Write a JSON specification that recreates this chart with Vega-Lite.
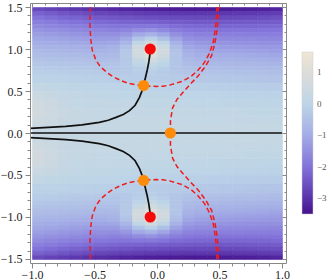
{
"$schema": "https://vega.github.io/schema/vega-lite/v6.json",
"width": 332, "height": 280,
"autosize": {"type": "fit", "contains": "padding"},
"padding": {"left": 0, "top": 1, "right": 5, "bottom": 0},
"background": "white",
"config": {"view": {"stroke": null}, "font": "Liberation Serif"},
"datasets": {
"g": [
{"x":-0.95,"y":0.65,"v":-0.04},{"x":-0.85,"y":0.65,"v":-0.05},{"x":-0.75,"y":0.65,"v":-0.07},{"x":-0.65,"y":0.65,"v":-0.09},{"x":-0.55,"y":0.65,"v":-0.11},{"x":-0.45,"y":0.65,"v":-0.13},{"x":-0.35,"y":0.65,"v":-0.15},{"x":-0.25,"y":0.65,"v":-0.17},{"x":-0.15,"y":0.65,"v":-0.19},{"x":-0.05,"y":0.65,"v":-0.18},{"x":0.05,"y":0.65,"v":-0.21},{"x":0.15,"y":0.65,"v":-0.25},{"x":0.25,"y":0.65,"v":-0.27},{"x":0.35,"y":0.65,"v":-0.29},{"x":0.45,"y":0.65,"v":-0.31},{"x":0.55,"y":0.65,"v":-0.33},{"x":0.65,"y":0.65,"v":-0.35},{"x":0.75,"y":0.65,"v":-0.37},{"x":0.85,"y":0.65,"v":-0.39},{"x":0.95,"y":0.65,"v":-0.41},
{"x":-0.95,"y":0.55,"v":0.18},{"x":-0.85,"y":0.55,"v":0.13},{"x":-0.75,"y":0.55,"v":0.08},{"x":-0.65,"y":0.55,"v":0.04},{"x":-0.55,"y":0.55,"v":0.02},{"x":-0.45,"y":0.55,"v":0.0},{"x":-0.35,"y":0.55,"v":-0.01},{"x":-0.25,"y":0.55,"v":-0.03},{"x":-0.15,"y":0.55,"v":-0.05},{"x":-0.05,"y":0.55,"v":-0.06},{"x":0.05,"y":0.55,"v":-0.08},{"x":0.15,"y":0.55,"v":-0.1},{"x":0.25,"y":0.55,"v":-0.11},{"x":0.35,"y":0.55,"v":-0.13},{"x":0.45,"y":0.55,"v":-0.14},{"x":0.55,"y":0.55,"v":-0.16},{"x":0.65,"y":0.55,"v":-0.18},{"x":0.75,"y":0.55,"v":-0.19},{"x":0.85,"y":0.55,"v":-0.21},{"x":0.95,"y":0.55,"v":-0.23},
{"x":-0.95,"y":0.45,"v":0.41},{"x":-0.85,"y":0.45,"v":0.32},{"x":-0.75,"y":0.45,"v":0.21},{"x":-0.65,"y":0.45,"v":0.15},{"x":-0.55,"y":0.45,"v":0.12},{"x":-0.45,"y":0.45,"v":0.11},{"x":-0.35,"y":0.45,"v":0.1},{"x":-0.25,"y":0.45,"v":0.08},{"x":-0.15,"y":0.45,"v":0.07},{"x":-0.05,"y":0.45,"v":0.06},{"x":0.05,"y":0.45,"v":0.04},{"x":0.15,"y":0.45,"v":0.03},{"x":0.25,"y":0.45,"v":0.02},{"x":0.35,"y":0.45,"v":0.0},{"x":0.45,"y":0.45,"v":-0.01},{"x":0.55,"y":0.45,"v":-0.02},{"x":0.65,"y":0.45,"v":-0.04},{"x":0.75,"y":0.45,"v":-0.05},{"x":0.85,"y":0.45,"v":-0.07},{"x":0.95,"y":0.45,"v":-0.08},
{"x":-0.95,"y":0.35,"v":0.59},{"x":-0.85,"y":0.35,"v":0.45},{"x":-0.75,"y":0.35,"v":0.3},{"x":-0.65,"y":0.35,"v":0.22},{"x":-0.55,"y":0.35,"v":0.19},{"x":-0.45,"y":0.35,"v":0.18},{"x":-0.35,"y":0.35,"v":0.17},{"x":-0.25,"y":0.35,"v":0.16},{"x":-0.15,"y":0.35,"v":0.15},{"x":-0.05,"y":0.35,"v":0.14},{"x":0.05,"y":0.35,"v":0.12},{"x":0.15,"y":0.35,"v":0.11},{"x":0.25,"y":0.35,"v":0.1},{"x":0.35,"y":0.35,"v":0.09},{"x":0.45,"y":0.35,"v":0.08},{"x":0.55,"y":0.35,"v":0.07},{"x":0.65,"y":0.35,"v":0.06},{"x":0.75,"y":0.35,"v":0.05},{"x":0.85,"y":0.35,"v":0.04},{"x":0.95,"y":0.35,"v":0.03},
{"x":-0.95,"y":0.25,"v":0.63},{"x":-0.85,"y":0.25,"v":0.49},{"x":-0.75,"y":0.25,"v":0.35},{"x":-0.65,"y":0.25,"v":0.27},{"x":-0.55,"y":0.25,"v":0.24},{"x":-0.45,"y":0.25,"v":0.23},{"x":-0.35,"y":0.25,"v":0.23},{"x":-0.25,"y":0.25,"v":0.22},{"x":-0.15,"y":0.25,"v":0.21},{"x":-0.05,"y":0.25,"v":0.2},{"x":0.05,"y":0.25,"v":0.2},{"x":0.15,"y":0.25,"v":0.19},{"x":0.25,"y":0.25,"v":0.18},{"x":0.35,"y":0.25,"v":0.17},{"x":0.45,"y":0.25,"v":0.17},{"x":0.55,"y":0.25,"v":0.16},{"x":0.65,"y":0.25,"v":0.15},{"x":0.75,"y":0.25,"v":0.14},{"x":0.85,"y":0.25,"v":0.14},{"x":0.95,"y":0.25,"v":0.13},
{"x":-0.95,"y":0.15,"v":0.51},{"x":-0.85,"y":0.15,"v":0.43},{"x":-0.75,"y":0.15,"v":0.33},{"x":-0.65,"y":0.15,"v":0.29},{"x":-0.55,"y":0.15,"v":0.27},{"x":-0.45,"y":0.15,"v":0.26},{"x":-0.35,"y":0.15,"v":0.26},{"x":-0.25,"y":0.15,"v":0.25},{"x":-0.15,"y":0.15,"v":0.25},{"x":-0.05,"y":0.15,"v":0.24},{"x":0.05,"y":0.15,"v":0.24},{"x":0.15,"y":0.15,"v":0.23},{"x":0.25,"y":0.15,"v":0.23},{"x":0.35,"y":0.15,"v":0.22},{"x":0.45,"y":0.15,"v":0.22},{"x":0.55,"y":0.15,"v":0.22},{"x":0.65,"y":0.15,"v":0.21},{"x":0.75,"y":0.15,"v":0.21},{"x":0.85,"y":0.15,"v":0.2},{"x":0.95,"y":0.15,"v":0.2},
{"x":-0.95,"y":0.05,"v":0.35},{"x":-0.85,"y":0.05,"v":0.32},{"x":-0.75,"y":0.05,"v":0.29},{"x":-0.65,"y":0.05,"v":0.26},{"x":-0.55,"y":0.05,"v":0.26},{"x":-0.45,"y":0.05,"v":0.26},{"x":-0.35,"y":0.05,"v":0.26},{"x":-0.25,"y":0.05,"v":0.25},{"x":-0.15,"y":0.05,"v":0.25},{"x":-0.05,"y":0.05,"v":0.25},{"x":0.05,"y":0.05,"v":0.25},{"x":0.15,"y":0.05,"v":0.25},{"x":0.25,"y":0.05,"v":0.25},{"x":0.35,"y":0.05,"v":0.24},{"x":0.45,"y":0.05,"v":0.24},{"x":0.55,"y":0.05,"v":0.24},{"x":0.65,"y":0.05,"v":0.24},{"x":0.75,"y":0.05,"v":0.24},{"x":0.85,"y":0.05,"v":0.24},{"x":0.95,"y":0.05,"v":0.24},
{"x":-0.95,"y":-0.05,"v":0.35},{"x":-0.85,"y":-0.05,"v":0.32},{"x":-0.75,"y":-0.05,"v":0.29},{"x":-0.65,"y":-0.05,"v":0.26},{"x":-0.55,"y":-0.05,"v":0.26},{"x":-0.45,"y":-0.05,"v":0.26},{"x":-0.35,"y":-0.05,"v":0.26},{"x":-0.25,"y":-0.05,"v":0.25},{"x":-0.15,"y":-0.05,"v":0.25},{"x":-0.05,"y":-0.05,"v":0.25},{"x":0.05,"y":-0.05,"v":0.25},{"x":0.15,"y":-0.05,"v":0.25},{"x":0.25,"y":-0.05,"v":0.25},{"x":0.35,"y":-0.05,"v":0.24},{"x":0.45,"y":-0.05,"v":0.24},{"x":0.55,"y":-0.05,"v":0.24},{"x":0.65,"y":-0.05,"v":0.24},{"x":0.75,"y":-0.05,"v":0.24},{"x":0.85,"y":-0.05,"v":0.24},{"x":0.95,"y":-0.05,"v":0.24},
{"x":-0.95,"y":-0.15,"v":0.51},{"x":-0.85,"y":-0.15,"v":0.43},{"x":-0.75,"y":-0.15,"v":0.33},{"x":-0.65,"y":-0.15,"v":0.29},{"x":-0.55,"y":-0.15,"v":0.27},{"x":-0.45,"y":-0.15,"v":0.26},{"x":-0.35,"y":-0.15,"v":0.26},{"x":-0.25,"y":-0.15,"v":0.25},{"x":-0.15,"y":-0.15,"v":0.25},{"x":-0.05,"y":-0.15,"v":0.24},{"x":0.05,"y":-0.15,"v":0.24},{"x":0.15,"y":-0.15,"v":0.23},{"x":0.25,"y":-0.15,"v":0.23},{"x":0.35,"y":-0.15,"v":0.22},{"x":0.45,"y":-0.15,"v":0.22},{"x":0.55,"y":-0.15,"v":0.22},{"x":0.65,"y":-0.15,"v":0.21},{"x":0.75,"y":-0.15,"v":0.21},{"x":0.85,"y":-0.15,"v":0.2},{"x":0.95,"y":-0.15,"v":0.2},
{"x":-0.95,"y":-0.25,"v":0.63},{"x":-0.85,"y":-0.25,"v":0.49},{"x":-0.75,"y":-0.25,"v":0.35},{"x":-0.65,"y":-0.25,"v":0.27},{"x":-0.55,"y":-0.25,"v":0.24},{"x":-0.45,"y":-0.25,"v":0.23},{"x":-0.35,"y":-0.25,"v":0.23},{"x":-0.25,"y":-0.25,"v":0.22},{"x":-0.15,"y":-0.25,"v":0.21},{"x":-0.05,"y":-0.25,"v":0.2},{"x":0.05,"y":-0.25,"v":0.2},{"x":0.15,"y":-0.25,"v":0.19},{"x":0.25,"y":-0.25,"v":0.18},{"x":0.35,"y":-0.25,"v":0.17},{"x":0.45,"y":-0.25,"v":0.17},{"x":0.55,"y":-0.25,"v":0.16},{"x":0.65,"y":-0.25,"v":0.15},{"x":0.75,"y":-0.25,"v":0.14},{"x":0.85,"y":-0.25,"v":0.14},{"x":0.95,"y":-0.25,"v":0.13},
{"x":-0.95,"y":-0.35,"v":0.59},{"x":-0.85,"y":-0.35,"v":0.45},{"x":-0.75,"y":-0.35,"v":0.3},{"x":-0.65,"y":-0.35,"v":0.22},{"x":-0.55,"y":-0.35,"v":0.19},{"x":-0.45,"y":-0.35,"v":0.18},{"x":-0.35,"y":-0.35,"v":0.17},{"x":-0.25,"y":-0.35,"v":0.16},{"x":-0.15,"y":-0.35,"v":0.15},{"x":-0.05,"y":-0.35,"v":0.14},{"x":0.05,"y":-0.35,"v":0.12},{"x":0.15,"y":-0.35,"v":0.11},{"x":0.25,"y":-0.35,"v":0.1},{"x":0.35,"y":-0.35,"v":0.09},{"x":0.45,"y":-0.35,"v":0.08},{"x":0.55,"y":-0.35,"v":0.07},{"x":0.65,"y":-0.35,"v":0.06},{"x":0.75,"y":-0.35,"v":0.05},{"x":0.85,"y":-0.35,"v":0.04},{"x":0.95,"y":-0.35,"v":0.03},
{"x":-0.95,"y":-0.45,"v":0.41},{"x":-0.85,"y":-0.45,"v":0.32},{"x":-0.75,"y":-0.45,"v":0.21},{"x":-0.65,"y":-0.45,"v":0.15},{"x":-0.55,"y":-0.45,"v":0.12},{"x":-0.45,"y":-0.45,"v":0.11},{"x":-0.35,"y":-0.45,"v":0.1},{"x":-0.25,"y":-0.45,"v":0.08},{"x":-0.15,"y":-0.45,"v":0.07},{"x":-0.05,"y":-0.45,"v":0.06},{"x":0.05,"y":-0.45,"v":0.04},{"x":0.15,"y":-0.45,"v":0.03},{"x":0.25,"y":-0.45,"v":0.02},{"x":0.35,"y":-0.45,"v":0.0},{"x":0.45,"y":-0.45,"v":-0.01},{"x":0.55,"y":-0.45,"v":-0.02},{"x":0.65,"y":-0.45,"v":-0.04},{"x":0.75,"y":-0.45,"v":-0.05},{"x":0.85,"y":-0.45,"v":-0.07},{"x":0.95,"y":-0.45,"v":-0.08},
{"x":-0.95,"y":-0.55,"v":0.18},{"x":-0.85,"y":-0.55,"v":0.13},{"x":-0.75,"y":-0.55,"v":0.08},{"x":-0.65,"y":-0.55,"v":0.04},{"x":-0.55,"y":-0.55,"v":0.02},{"x":-0.45,"y":-0.55,"v":0.0},{"x":-0.35,"y":-0.55,"v":-0.01},{"x":-0.25,"y":-0.55,"v":-0.03},{"x":-0.15,"y":-0.55,"v":-0.05},{"x":-0.05,"y":-0.55,"v":-0.06},{"x":0.05,"y":-0.55,"v":-0.08},{"x":0.15,"y":-0.55,"v":-0.1},{"x":0.25,"y":-0.55,"v":-0.11},{"x":0.35,"y":-0.55,"v":-0.13},{"x":0.45,"y":-0.55,"v":-0.14},{"x":0.55,"y":-0.55,"v":-0.16},{"x":0.65,"y":-0.55,"v":-0.18},{"x":0.75,"y":-0.55,"v":-0.19},{"x":0.85,"y":-0.55,"v":-0.21},{"x":0.95,"y":-0.55,"v":-0.23},
{"x":-0.95,"y":-0.65,"v":-0.04},{"x":-0.85,"y":-0.65,"v":-0.05},{"x":-0.75,"y":-0.65,"v":-0.07},{"x":-0.65,"y":-0.65,"v":-0.09},{"x":-0.55,"y":-0.65,"v":-0.11},{"x":-0.45,"y":-0.65,"v":-0.13},{"x":-0.35,"y":-0.65,"v":-0.15},{"x":-0.25,"y":-0.65,"v":-0.17},{"x":-0.15,"y":-0.65,"v":-0.19},{"x":-0.05,"y":-0.65,"v":-0.18},{"x":0.05,"y":-0.65,"v":-0.21},{"x":0.15,"y":-0.65,"v":-0.25},{"x":0.25,"y":-0.65,"v":-0.27},{"x":0.35,"y":-0.65,"v":-0.29},{"x":0.45,"y":-0.65,"v":-0.31},{"x":0.55,"y":-0.65,"v":-0.33},{"x":0.65,"y":-0.65,"v":-0.35},{"x":0.75,"y":-0.65,"v":-0.37},{"x":0.85,"y":-0.65,"v":-0.39},{"x":0.95,"y":-0.65,"v":-0.41}
],
"f": [
{"x":-0.95,"y":1.475,"v":-2.63},{"x":-0.85,"y":1.475,"v":-2.74},{"x":-0.75,"y":1.475,"v":-2.84},{"x":-0.65,"y":1.475,"v":-2.92},{"x":-0.55,"y":1.475,"v":-3.01},{"x":-0.45,"y":1.475,"v":-3.08},{"x":-0.35,"y":1.475,"v":-3.14},{"x":-0.25,"y":1.475,"v":-3.2},{"x":-0.15,"y":1.475,"v":-3.25},{"x":-0.05,"y":1.475,"v":-3.29},{"x":0.05,"y":1.475,"v":-3.32},{"x":0.15,"y":1.475,"v":-3.34},{"x":0.25,"y":1.475,"v":-3.35},{"x":0.35,"y":1.475,"v":-3.35},{"x":0.45,"y":1.475,"v":-3.35},{"x":0.55,"y":1.475,"v":-3.34},{"x":0.65,"y":1.475,"v":-3.31},{"x":0.75,"y":1.475,"v":-3.29},{"x":0.85,"y":1.475,"v":-3.25},{"x":0.95,"y":1.475,"v":-3.2},
{"x":-0.95,"y":1.425,"v":-2.25},{"x":-0.85,"y":1.425,"v":-2.35},{"x":-0.75,"y":1.425,"v":-2.44},{"x":-0.65,"y":1.425,"v":-2.52},{"x":-0.55,"y":1.425,"v":-2.6},{"x":-0.45,"y":1.425,"v":-2.67},{"x":-0.35,"y":1.425,"v":-2.73},{"x":-0.25,"y":1.425,"v":-2.78},{"x":-0.15,"y":1.425,"v":-2.83},{"x":-0.05,"y":1.425,"v":-2.86},{"x":0.05,"y":1.425,"v":-2.9},{"x":0.15,"y":1.425,"v":-2.92},{"x":0.25,"y":1.425,"v":-2.93},{"x":0.35,"y":1.425,"v":-2.94},{"x":0.45,"y":1.425,"v":-2.94},{"x":0.55,"y":1.425,"v":-2.93},{"x":0.65,"y":1.425,"v":-2.91},{"x":0.75,"y":1.425,"v":-2.89},{"x":0.85,"y":1.425,"v":-2.86},{"x":0.95,"y":1.425,"v":-2.82},
{"x":-0.95,"y":1.375,"v":-1.99},{"x":-0.85,"y":1.375,"v":-2.08},{"x":-0.75,"y":1.375,"v":-2.17},{"x":-0.65,"y":1.375,"v":-2.24},{"x":-0.55,"y":1.375,"v":-2.31},{"x":-0.45,"y":1.375,"v":-2.38},{"x":-0.35,"y":1.375,"v":-2.43},{"x":-0.25,"y":1.375,"v":-2.48},{"x":-0.15,"y":1.375,"v":-2.52},{"x":-0.05,"y":1.375,"v":-2.55},{"x":0.05,"y":1.375,"v":-2.59},{"x":0.15,"y":1.375,"v":-2.62},{"x":0.25,"y":1.375,"v":-2.63},{"x":0.35,"y":1.375,"v":-2.64},{"x":0.45,"y":1.375,"v":-2.65},{"x":0.55,"y":1.375,"v":-2.64},{"x":0.65,"y":1.375,"v":-2.63},{"x":0.75,"y":1.375,"v":-2.62},{"x":0.85,"y":1.375,"v":-2.59},{"x":0.95,"y":1.375,"v":-2.56},
{"x":-0.95,"y":1.325,"v":-1.77},{"x":-0.85,"y":1.325,"v":-1.85},{"x":-0.75,"y":1.325,"v":-1.93},{"x":-0.65,"y":1.325,"v":-2.0},{"x":-0.55,"y":1.325,"v":-2.07},{"x":-0.45,"y":1.325,"v":-2.13},{"x":-0.35,"y":1.325,"v":-2.18},{"x":-0.25,"y":1.325,"v":-2.22},{"x":-0.15,"y":1.325,"v":-2.23},{"x":-0.05,"y":1.325,"v":-2.25},{"x":0.05,"y":1.325,"v":-2.3},{"x":0.15,"y":1.325,"v":-2.35},{"x":0.25,"y":1.325,"v":-2.38},{"x":0.35,"y":1.325,"v":-2.39},{"x":0.45,"y":1.325,"v":-2.4},{"x":0.55,"y":1.325,"v":-2.4},{"x":0.65,"y":1.325,"v":-2.39},{"x":0.75,"y":1.325,"v":-2.38},{"x":0.85,"y":1.325,"v":-2.36},{"x":0.95,"y":1.325,"v":-2.34},
{"x":-0.95,"y":1.275,"v":-1.57},{"x":-0.85,"y":1.275,"v":-1.65},{"x":-0.75,"y":1.275,"v":-1.72},{"x":-0.65,"y":1.275,"v":-1.78},{"x":-0.55,"y":1.275,"v":-1.84},{"x":-0.45,"y":1.275,"v":-1.9},{"x":-0.35,"y":1.275,"v":-1.95},{"x":-0.25,"y":1.275,"v":-1.95},{"x":-0.15,"y":1.275,"v":-1.91},{"x":-0.05,"y":1.275,"v":-1.9},{"x":0.05,"y":1.275,"v":-1.98},{"x":0.15,"y":1.275,"v":-2.08},{"x":0.25,"y":1.275,"v":-2.14},{"x":0.35,"y":1.275,"v":-2.16},{"x":0.45,"y":1.275,"v":-2.17},{"x":0.55,"y":1.275,"v":-2.17},{"x":0.65,"y":1.275,"v":-2.17},{"x":0.75,"y":1.275,"v":-2.17},{"x":0.85,"y":1.275,"v":-2.16},{"x":0.95,"y":1.275,"v":-2.14},
{"x":-0.95,"y":1.225,"v":-1.39},{"x":-0.85,"y":1.225,"v":-1.46},{"x":-0.75,"y":1.225,"v":-1.52},{"x":-0.65,"y":1.225,"v":-1.58},{"x":-0.55,"y":1.225,"v":-1.63},{"x":-0.45,"y":1.225,"v":-1.68},{"x":-0.35,"y":1.225,"v":-1.72},{"x":-0.25,"y":1.225,"v":-1.67},{"x":-0.15,"y":1.225,"v":-1.53},{"x":-0.05,"y":1.225,"v":-1.45},{"x":0.05,"y":1.225,"v":-1.6},{"x":0.15,"y":1.225,"v":-1.8},{"x":0.25,"y":1.225,"v":-1.91},{"x":0.35,"y":1.225,"v":-1.94},{"x":0.45,"y":1.225,"v":-1.95},{"x":0.55,"y":1.225,"v":-1.96},{"x":0.65,"y":1.225,"v":-1.97},{"x":0.75,"y":1.225,"v":-1.97},{"x":0.85,"y":1.225,"v":-1.97},{"x":0.95,"y":1.225,"v":-1.96},
{"x":-0.95,"y":1.175,"v":-1.22},{"x":-0.85,"y":1.175,"v":-1.28},{"x":-0.75,"y":1.175,"v":-1.34},{"x":-0.65,"y":1.175,"v":-1.39},{"x":-0.55,"y":1.175,"v":-1.44},{"x":-0.45,"y":1.175,"v":-1.48},{"x":-0.35,"y":1.175,"v":-1.5},{"x":-0.25,"y":1.175,"v":-1.37},{"x":-0.15,"y":1.175,"v":-1.04},{"x":-0.05,"y":1.175,"v":-0.85},{"x":0.05,"y":1.175,"v":-1.1},{"x":0.15,"y":1.175,"v":-1.49},{"x":0.25,"y":1.175,"v":-1.69},{"x":0.35,"y":1.175,"v":-1.74},{"x":0.45,"y":1.175,"v":-1.75},{"x":0.55,"y":1.175,"v":-1.77},{"x":0.65,"y":1.175,"v":-1.78},{"x":0.75,"y":1.175,"v":-1.79},{"x":0.85,"y":1.175,"v":-1.79},{"x":0.95,"y":1.175,"v":-1.79},
{"x":-0.95,"y":1.125,"v":-1.06},{"x":-0.85,"y":1.125,"v":-1.11},{"x":-0.75,"y":1.125,"v":-1.16},{"x":-0.65,"y":1.125,"v":-1.21},{"x":-0.55,"y":1.125,"v":-1.25},{"x":-0.45,"y":1.125,"v":-1.29},{"x":-0.35,"y":1.125,"v":-1.27},{"x":-0.25,"y":1.125,"v":-1.04},{"x":-0.15,"y":1.125,"v":-0.45},{"x":-0.05,"y":1.125,"v":-0.1},{"x":0.05,"y":1.125,"v":-0.52},{"x":0.15,"y":1.125,"v":-1.16},{"x":0.25,"y":1.125,"v":-1.46},{"x":0.35,"y":1.125,"v":-1.54},{"x":0.45,"y":1.125,"v":-1.56},{"x":0.55,"y":1.125,"v":-1.58},{"x":0.65,"y":1.125,"v":-1.6},{"x":0.75,"y":1.125,"v":-1.61},{"x":0.85,"y":1.125,"v":-1.62},{"x":0.95,"y":1.125,"v":-1.63},
{"x":-0.95,"y":1.075,"v":-0.92},{"x":-0.85,"y":1.075,"v":-0.97},{"x":-0.75,"y":1.075,"v":-1.01},{"x":-0.65,"y":1.075,"v":-1.05},{"x":-0.55,"y":1.075,"v":-1.09},{"x":-0.45,"y":1.075,"v":-1.11},{"x":-0.35,"y":1.075,"v":-1.08},{"x":-0.25,"y":1.075,"v":-0.72},{"x":-0.15,"y":1.075,"v":0.12},{"x":-0.05,"y":1.075,"v":0.64},{"x":0.05,"y":1.075,"v":0.06},{"x":0.15,"y":1.075,"v":-0.84},{"x":0.25,"y":1.075,"v":-1.26},{"x":0.35,"y":1.075,"v":-1.36},{"x":0.45,"y":1.075,"v":-1.39},{"x":0.55,"y":1.075,"v":-1.42},{"x":0.65,"y":1.075,"v":-1.44},{"x":0.75,"y":1.075,"v":-1.46},{"x":0.85,"y":1.075,"v":-1.48},{"x":0.95,"y":1.075,"v":-1.49},
{"x":-0.95,"y":1.025,"v":-0.8},{"x":-0.85,"y":1.025,"v":-0.83},{"x":-0.75,"y":1.025,"v":-0.86},{"x":-0.65,"y":1.025,"v":-0.9},{"x":-0.55,"y":1.025,"v":-0.93},{"x":-0.45,"y":1.025,"v":-0.95},{"x":-0.35,"y":1.025,"v":-0.89},{"x":-0.25,"y":1.025,"v":-0.47},{"x":-0.15,"y":1.025,"v":0.54},{"x":-0.05,"y":1.025,"v":1.17},{"x":0.05,"y":1.025,"v":0.48},{"x":0.15,"y":1.025,"v":-0.59},{"x":0.25,"y":1.025,"v":-1.08},{"x":0.35,"y":1.025,"v":-1.19},{"x":0.45,"y":1.025,"v":-1.23},{"x":0.55,"y":1.025,"v":-1.26},{"x":0.65,"y":1.025,"v":-1.29},{"x":0.75,"y":1.025,"v":-1.31},{"x":0.85,"y":1.025,"v":-1.34},{"x":0.95,"y":1.025,"v":-1.37},
{"x":-0.95,"y":0.975,"v":-0.67},{"x":-0.85,"y":0.975,"v":-0.7},{"x":-0.75,"y":0.975,"v":-0.73},{"x":-0.65,"y":0.975,"v":-0.76},{"x":-0.55,"y":0.975,"v":-0.79},{"x":-0.45,"y":0.975,"v":-0.81},{"x":-0.35,"y":0.975,"v":-0.75},{"x":-0.25,"y":0.975,"v":-0.32},{"x":-0.15,"y":0.975,"v":0.68},{"x":-0.05,"y":0.975,"v":1.32},{"x":0.05,"y":0.975,"v":0.63},{"x":0.15,"y":0.975,"v":-0.43},{"x":0.25,"y":0.975,"v":-0.92},{"x":0.35,"y":0.975,"v":-1.04},{"x":0.45,"y":0.975,"v":-1.08},{"x":0.55,"y":0.975,"v":-1.12},{"x":0.65,"y":0.975,"v":-1.14},{"x":0.75,"y":0.975,"v":-1.17},{"x":0.85,"y":0.975,"v":-1.2},{"x":0.95,"y":0.975,"v":-1.24},
{"x":-0.95,"y":0.925,"v":-0.55},{"x":-0.85,"y":0.925,"v":-0.58},{"x":-0.75,"y":0.925,"v":-0.61},{"x":-0.65,"y":0.925,"v":-0.64},{"x":-0.55,"y":0.925,"v":-0.66},{"x":-0.45,"y":0.925,"v":-0.68},{"x":-0.35,"y":0.925,"v":-0.64},{"x":-0.25,"y":0.925,"v":-0.28},{"x":-0.15,"y":0.925,"v":0.57},{"x":-0.05,"y":0.925,"v":1.09},{"x":0.05,"y":0.925,"v":0.51},{"x":0.15,"y":0.925,"v":-0.39},{"x":0.25,"y":0.925,"v":-0.8},{"x":0.35,"y":0.925,"v":-0.9},{"x":0.45,"y":0.925,"v":-0.94},{"x":0.55,"y":0.925,"v":-0.97},{"x":0.65,"y":0.925,"v":-1.0},{"x":0.75,"y":0.925,"v":-1.02},{"x":0.85,"y":0.925,"v":-1.05},{"x":0.95,"y":0.925,"v":-1.08},
{"x":-0.95,"y":0.875,"v":-0.44},{"x":-0.85,"y":0.875,"v":-0.46},{"x":-0.75,"y":0.875,"v":-0.49},{"x":-0.65,"y":0.875,"v":-0.51},{"x":-0.55,"y":0.875,"v":-0.54},{"x":-0.45,"y":0.875,"v":-0.57},{"x":-0.35,"y":0.875,"v":-0.53},{"x":-0.25,"y":0.875,"v":-0.29},{"x":-0.15,"y":0.875,"v":0.3},{"x":-0.05,"y":0.875,"v":0.67},{"x":0.05,"y":0.875,"v":0.25},{"x":0.15,"y":0.875,"v":-0.39},{"x":0.25,"y":0.875,"v":-0.69},{"x":0.35,"y":0.875,"v":-0.78},{"x":0.45,"y":0.875,"v":-0.8},{"x":0.55,"y":0.875,"v":-0.83},{"x":0.65,"y":0.875,"v":-0.86},{"x":0.75,"y":0.875,"v":-0.88},{"x":0.85,"y":0.875,"v":-0.91},{"x":0.95,"y":0.875,"v":-0.93},
{"x":-0.95,"y":0.825,"v":-0.33},{"x":-0.85,"y":0.825,"v":-0.36},{"x":-0.75,"y":0.825,"v":-0.38},{"x":-0.65,"y":0.825,"v":-0.4},{"x":-0.55,"y":0.825,"v":-0.43},{"x":-0.45,"y":0.825,"v":-0.45},{"x":-0.35,"y":0.825,"v":-0.45},{"x":-0.25,"y":0.825,"v":-0.3},{"x":-0.15,"y":0.825,"v":0.03},{"x":-0.05,"y":0.825,"v":0.24},{"x":0.05,"y":0.825,"v":-0.02},{"x":0.15,"y":0.825,"v":-0.4},{"x":0.25,"y":0.825,"v":-0.6},{"x":0.35,"y":0.825,"v":-0.65},{"x":0.45,"y":0.825,"v":-0.68},{"x":0.55,"y":0.825,"v":-0.7},{"x":0.65,"y":0.825,"v":-0.73},{"x":0.75,"y":0.825,"v":-0.75},{"x":0.85,"y":0.825,"v":-0.78},{"x":0.95,"y":0.825,"v":-0.8},
{"x":-0.95,"y":0.775,"v":-0.23},{"x":-0.85,"y":0.775,"v":-0.25},{"x":-0.75,"y":0.775,"v":-0.28},{"x":-0.65,"y":0.775,"v":-0.3},{"x":-0.55,"y":0.775,"v":-0.32},{"x":-0.45,"y":0.775,"v":-0.35},{"x":-0.35,"y":0.775,"v":-0.36},{"x":-0.25,"y":0.775,"v":-0.29},{"x":-0.15,"y":0.775,"v":-0.14},{"x":-0.05,"y":0.775,"v":-0.04},{"x":0.05,"y":0.775,"v":-0.18},{"x":0.15,"y":0.775,"v":-0.39},{"x":0.25,"y":0.775,"v":-0.5},{"x":0.35,"y":0.775,"v":-0.53},{"x":0.45,"y":0.775,"v":-0.56},{"x":0.55,"y":0.775,"v":-0.58},{"x":0.65,"y":0.775,"v":-0.6},{"x":0.75,"y":0.775,"v":-0.62},{"x":0.85,"y":0.775,"v":-0.65},{"x":0.95,"y":0.775,"v":-0.67},
{"x":-0.95,"y":0.725,"v":-0.14},{"x":-0.85,"y":0.725,"v":-0.17},{"x":-0.75,"y":0.725,"v":-0.19},{"x":-0.65,"y":0.725,"v":-0.21},{"x":-0.55,"y":0.725,"v":-0.23},{"x":-0.45,"y":0.725,"v":-0.25},{"x":-0.35,"y":0.725,"v":-0.27},{"x":-0.25,"y":0.725,"v":-0.26},{"x":-0.15,"y":0.725,"v":-0.2},{"x":-0.05,"y":0.725,"v":-0.17},{"x":0.05,"y":0.725,"v":-0.24},{"x":0.15,"y":0.725,"v":-0.34},{"x":0.25,"y":0.725,"v":-0.4},{"x":0.35,"y":0.725,"v":-0.43},{"x":0.45,"y":0.725,"v":-0.45},{"x":0.55,"y":0.725,"v":-0.47},{"x":0.65,"y":0.725,"v":-0.49},{"x":0.75,"y":0.725,"v":-0.51},{"x":0.85,"y":0.725,"v":-0.53},{"x":0.95,"y":0.725,"v":-0.56},
{"x":-0.95,"y":-0.725,"v":-0.14},{"x":-0.85,"y":-0.725,"v":-0.17},{"x":-0.75,"y":-0.725,"v":-0.19},{"x":-0.65,"y":-0.725,"v":-0.21},{"x":-0.55,"y":-0.725,"v":-0.23},{"x":-0.45,"y":-0.725,"v":-0.25},{"x":-0.35,"y":-0.725,"v":-0.27},{"x":-0.25,"y":-0.725,"v":-0.26},{"x":-0.15,"y":-0.725,"v":-0.2},{"x":-0.05,"y":-0.725,"v":-0.17},{"x":0.05,"y":-0.725,"v":-0.24},{"x":0.15,"y":-0.725,"v":-0.34},{"x":0.25,"y":-0.725,"v":-0.4},{"x":0.35,"y":-0.725,"v":-0.43},{"x":0.45,"y":-0.725,"v":-0.45},{"x":0.55,"y":-0.725,"v":-0.47},{"x":0.65,"y":-0.725,"v":-0.49},{"x":0.75,"y":-0.725,"v":-0.51},{"x":0.85,"y":-0.725,"v":-0.53},{"x":0.95,"y":-0.725,"v":-0.56},
{"x":-0.95,"y":-0.775,"v":-0.23},{"x":-0.85,"y":-0.775,"v":-0.25},{"x":-0.75,"y":-0.775,"v":-0.28},{"x":-0.65,"y":-0.775,"v":-0.3},{"x":-0.55,"y":-0.775,"v":-0.32},{"x":-0.45,"y":-0.775,"v":-0.35},{"x":-0.35,"y":-0.775,"v":-0.36},{"x":-0.25,"y":-0.775,"v":-0.29},{"x":-0.15,"y":-0.775,"v":-0.14},{"x":-0.05,"y":-0.775,"v":-0.04},{"x":0.05,"y":-0.775,"v":-0.18},{"x":0.15,"y":-0.775,"v":-0.39},{"x":0.25,"y":-0.775,"v":-0.5},{"x":0.35,"y":-0.775,"v":-0.53},{"x":0.45,"y":-0.775,"v":-0.56},{"x":0.55,"y":-0.775,"v":-0.58},{"x":0.65,"y":-0.775,"v":-0.6},{"x":0.75,"y":-0.775,"v":-0.62},{"x":0.85,"y":-0.775,"v":-0.65},{"x":0.95,"y":-0.775,"v":-0.67},
{"x":-0.95,"y":-0.825,"v":-0.33},{"x":-0.85,"y":-0.825,"v":-0.36},{"x":-0.75,"y":-0.825,"v":-0.38},{"x":-0.65,"y":-0.825,"v":-0.4},{"x":-0.55,"y":-0.825,"v":-0.43},{"x":-0.45,"y":-0.825,"v":-0.45},{"x":-0.35,"y":-0.825,"v":-0.45},{"x":-0.25,"y":-0.825,"v":-0.3},{"x":-0.15,"y":-0.825,"v":0.03},{"x":-0.05,"y":-0.825,"v":0.24},{"x":0.05,"y":-0.825,"v":-0.02},{"x":0.15,"y":-0.825,"v":-0.4},{"x":0.25,"y":-0.825,"v":-0.6},{"x":0.35,"y":-0.825,"v":-0.65},{"x":0.45,"y":-0.825,"v":-0.68},{"x":0.55,"y":-0.825,"v":-0.7},{"x":0.65,"y":-0.825,"v":-0.73},{"x":0.75,"y":-0.825,"v":-0.75},{"x":0.85,"y":-0.825,"v":-0.78},{"x":0.95,"y":-0.825,"v":-0.8},
{"x":-0.95,"y":-0.875,"v":-0.44},{"x":-0.85,"y":-0.875,"v":-0.46},{"x":-0.75,"y":-0.875,"v":-0.49},{"x":-0.65,"y":-0.875,"v":-0.51},{"x":-0.55,"y":-0.875,"v":-0.54},{"x":-0.45,"y":-0.875,"v":-0.57},{"x":-0.35,"y":-0.875,"v":-0.53},{"x":-0.25,"y":-0.875,"v":-0.29},{"x":-0.15,"y":-0.875,"v":0.3},{"x":-0.05,"y":-0.875,"v":0.67},{"x":0.05,"y":-0.875,"v":0.25},{"x":0.15,"y":-0.875,"v":-0.39},{"x":0.25,"y":-0.875,"v":-0.69},{"x":0.35,"y":-0.875,"v":-0.78},{"x":0.45,"y":-0.875,"v":-0.8},{"x":0.55,"y":-0.875,"v":-0.83},{"x":0.65,"y":-0.875,"v":-0.86},{"x":0.75,"y":-0.875,"v":-0.88},{"x":0.85,"y":-0.875,"v":-0.91},{"x":0.95,"y":-0.875,"v":-0.93},
{"x":-0.95,"y":-0.925,"v":-0.55},{"x":-0.85,"y":-0.925,"v":-0.58},{"x":-0.75,"y":-0.925,"v":-0.61},{"x":-0.65,"y":-0.925,"v":-0.64},{"x":-0.55,"y":-0.925,"v":-0.66},{"x":-0.45,"y":-0.925,"v":-0.68},{"x":-0.35,"y":-0.925,"v":-0.64},{"x":-0.25,"y":-0.925,"v":-0.28},{"x":-0.15,"y":-0.925,"v":0.57},{"x":-0.05,"y":-0.925,"v":1.09},{"x":0.05,"y":-0.925,"v":0.51},{"x":0.15,"y":-0.925,"v":-0.39},{"x":0.25,"y":-0.925,"v":-0.8},{"x":0.35,"y":-0.925,"v":-0.9},{"x":0.45,"y":-0.925,"v":-0.94},{"x":0.55,"y":-0.925,"v":-0.97},{"x":0.65,"y":-0.925,"v":-1.0},{"x":0.75,"y":-0.925,"v":-1.02},{"x":0.85,"y":-0.925,"v":-1.05},{"x":0.95,"y":-0.925,"v":-1.08},
{"x":-0.95,"y":-0.975,"v":-0.67},{"x":-0.85,"y":-0.975,"v":-0.7},{"x":-0.75,"y":-0.975,"v":-0.73},{"x":-0.65,"y":-0.975,"v":-0.76},{"x":-0.55,"y":-0.975,"v":-0.79},{"x":-0.45,"y":-0.975,"v":-0.81},{"x":-0.35,"y":-0.975,"v":-0.75},{"x":-0.25,"y":-0.975,"v":-0.32},{"x":-0.15,"y":-0.975,"v":0.68},{"x":-0.05,"y":-0.975,"v":1.32},{"x":0.05,"y":-0.975,"v":0.63},{"x":0.15,"y":-0.975,"v":-0.43},{"x":0.25,"y":-0.975,"v":-0.92},{"x":0.35,"y":-0.975,"v":-1.04},{"x":0.45,"y":-0.975,"v":-1.08},{"x":0.55,"y":-0.975,"v":-1.12},{"x":0.65,"y":-0.975,"v":-1.14},{"x":0.75,"y":-0.975,"v":-1.17},{"x":0.85,"y":-0.975,"v":-1.2},{"x":0.95,"y":-0.975,"v":-1.24},
{"x":-0.95,"y":-1.025,"v":-0.8},{"x":-0.85,"y":-1.025,"v":-0.83},{"x":-0.75,"y":-1.025,"v":-0.86},{"x":-0.65,"y":-1.025,"v":-0.9},{"x":-0.55,"y":-1.025,"v":-0.93},{"x":-0.45,"y":-1.025,"v":-0.95},{"x":-0.35,"y":-1.025,"v":-0.89},{"x":-0.25,"y":-1.025,"v":-0.47},{"x":-0.15,"y":-1.025,"v":0.54},{"x":-0.05,"y":-1.025,"v":1.17},{"x":0.05,"y":-1.025,"v":0.48},{"x":0.15,"y":-1.025,"v":-0.59},{"x":0.25,"y":-1.025,"v":-1.08},{"x":0.35,"y":-1.025,"v":-1.19},{"x":0.45,"y":-1.025,"v":-1.23},{"x":0.55,"y":-1.025,"v":-1.26},{"x":0.65,"y":-1.025,"v":-1.29},{"x":0.75,"y":-1.025,"v":-1.31},{"x":0.85,"y":-1.025,"v":-1.34},{"x":0.95,"y":-1.025,"v":-1.37},
{"x":-0.95,"y":-1.075,"v":-0.92},{"x":-0.85,"y":-1.075,"v":-0.97},{"x":-0.75,"y":-1.075,"v":-1.01},{"x":-0.65,"y":-1.075,"v":-1.05},{"x":-0.55,"y":-1.075,"v":-1.09},{"x":-0.45,"y":-1.075,"v":-1.11},{"x":-0.35,"y":-1.075,"v":-1.08},{"x":-0.25,"y":-1.075,"v":-0.72},{"x":-0.15,"y":-1.075,"v":0.12},{"x":-0.05,"y":-1.075,"v":0.64},{"x":0.05,"y":-1.075,"v":0.06},{"x":0.15,"y":-1.075,"v":-0.84},{"x":0.25,"y":-1.075,"v":-1.26},{"x":0.35,"y":-1.075,"v":-1.36},{"x":0.45,"y":-1.075,"v":-1.39},{"x":0.55,"y":-1.075,"v":-1.42},{"x":0.65,"y":-1.075,"v":-1.44},{"x":0.75,"y":-1.075,"v":-1.46},{"x":0.85,"y":-1.075,"v":-1.48},{"x":0.95,"y":-1.075,"v":-1.49},
{"x":-0.95,"y":-1.125,"v":-1.06},{"x":-0.85,"y":-1.125,"v":-1.11},{"x":-0.75,"y":-1.125,"v":-1.16},{"x":-0.65,"y":-1.125,"v":-1.21},{"x":-0.55,"y":-1.125,"v":-1.25},{"x":-0.45,"y":-1.125,"v":-1.29},{"x":-0.35,"y":-1.125,"v":-1.27},{"x":-0.25,"y":-1.125,"v":-1.04},{"x":-0.15,"y":-1.125,"v":-0.45},{"x":-0.05,"y":-1.125,"v":-0.1},{"x":0.05,"y":-1.125,"v":-0.52},{"x":0.15,"y":-1.125,"v":-1.16},{"x":0.25,"y":-1.125,"v":-1.46},{"x":0.35,"y":-1.125,"v":-1.54},{"x":0.45,"y":-1.125,"v":-1.56},{"x":0.55,"y":-1.125,"v":-1.58},{"x":0.65,"y":-1.125,"v":-1.6},{"x":0.75,"y":-1.125,"v":-1.61},{"x":0.85,"y":-1.125,"v":-1.62},{"x":0.95,"y":-1.125,"v":-1.63},
{"x":-0.95,"y":-1.175,"v":-1.22},{"x":-0.85,"y":-1.175,"v":-1.28},{"x":-0.75,"y":-1.175,"v":-1.34},{"x":-0.65,"y":-1.175,"v":-1.39},{"x":-0.55,"y":-1.175,"v":-1.44},{"x":-0.45,"y":-1.175,"v":-1.48},{"x":-0.35,"y":-1.175,"v":-1.5},{"x":-0.25,"y":-1.175,"v":-1.37},{"x":-0.15,"y":-1.175,"v":-1.04},{"x":-0.05,"y":-1.175,"v":-0.85},{"x":0.05,"y":-1.175,"v":-1.1},{"x":0.15,"y":-1.175,"v":-1.49},{"x":0.25,"y":-1.175,"v":-1.69},{"x":0.35,"y":-1.175,"v":-1.74},{"x":0.45,"y":-1.175,"v":-1.75},{"x":0.55,"y":-1.175,"v":-1.77},{"x":0.65,"y":-1.175,"v":-1.78},{"x":0.75,"y":-1.175,"v":-1.79},{"x":0.85,"y":-1.175,"v":-1.79},{"x":0.95,"y":-1.175,"v":-1.79},
{"x":-0.95,"y":-1.225,"v":-1.39},{"x":-0.85,"y":-1.225,"v":-1.46},{"x":-0.75,"y":-1.225,"v":-1.52},{"x":-0.65,"y":-1.225,"v":-1.58},{"x":-0.55,"y":-1.225,"v":-1.63},{"x":-0.45,"y":-1.225,"v":-1.68},{"x":-0.35,"y":-1.225,"v":-1.72},{"x":-0.25,"y":-1.225,"v":-1.67},{"x":-0.15,"y":-1.225,"v":-1.53},{"x":-0.05,"y":-1.225,"v":-1.45},{"x":0.05,"y":-1.225,"v":-1.6},{"x":0.15,"y":-1.225,"v":-1.8},{"x":0.25,"y":-1.225,"v":-1.91},{"x":0.35,"y":-1.225,"v":-1.94},{"x":0.45,"y":-1.225,"v":-1.95},{"x":0.55,"y":-1.225,"v":-1.96},{"x":0.65,"y":-1.225,"v":-1.97},{"x":0.75,"y":-1.225,"v":-1.97},{"x":0.85,"y":-1.225,"v":-1.97},{"x":0.95,"y":-1.225,"v":-1.96},
{"x":-0.95,"y":-1.275,"v":-1.57},{"x":-0.85,"y":-1.275,"v":-1.65},{"x":-0.75,"y":-1.275,"v":-1.72},{"x":-0.65,"y":-1.275,"v":-1.78},{"x":-0.55,"y":-1.275,"v":-1.84},{"x":-0.45,"y":-1.275,"v":-1.9},{"x":-0.35,"y":-1.275,"v":-1.95},{"x":-0.25,"y":-1.275,"v":-1.95},{"x":-0.15,"y":-1.275,"v":-1.91},{"x":-0.05,"y":-1.275,"v":-1.9},{"x":0.05,"y":-1.275,"v":-1.98},{"x":0.15,"y":-1.275,"v":-2.08},{"x":0.25,"y":-1.275,"v":-2.14},{"x":0.35,"y":-1.275,"v":-2.16},{"x":0.45,"y":-1.275,"v":-2.17},{"x":0.55,"y":-1.275,"v":-2.17},{"x":0.65,"y":-1.275,"v":-2.17},{"x":0.75,"y":-1.275,"v":-2.17},{"x":0.85,"y":-1.275,"v":-2.16},{"x":0.95,"y":-1.275,"v":-2.14},
{"x":-0.95,"y":-1.325,"v":-1.77},{"x":-0.85,"y":-1.325,"v":-1.85},{"x":-0.75,"y":-1.325,"v":-1.93},{"x":-0.65,"y":-1.325,"v":-2.0},{"x":-0.55,"y":-1.325,"v":-2.07},{"x":-0.45,"y":-1.325,"v":-2.13},{"x":-0.35,"y":-1.325,"v":-2.18},{"x":-0.25,"y":-1.325,"v":-2.22},{"x":-0.15,"y":-1.325,"v":-2.23},{"x":-0.05,"y":-1.325,"v":-2.25},{"x":0.05,"y":-1.325,"v":-2.3},{"x":0.15,"y":-1.325,"v":-2.35},{"x":0.25,"y":-1.325,"v":-2.38},{"x":0.35,"y":-1.325,"v":-2.39},{"x":0.45,"y":-1.325,"v":-2.4},{"x":0.55,"y":-1.325,"v":-2.4},{"x":0.65,"y":-1.325,"v":-2.39},{"x":0.75,"y":-1.325,"v":-2.38},{"x":0.85,"y":-1.325,"v":-2.36},{"x":0.95,"y":-1.325,"v":-2.34},
{"x":-0.95,"y":-1.375,"v":-1.99},{"x":-0.85,"y":-1.375,"v":-2.08},{"x":-0.75,"y":-1.375,"v":-2.17},{"x":-0.65,"y":-1.375,"v":-2.24},{"x":-0.55,"y":-1.375,"v":-2.31},{"x":-0.45,"y":-1.375,"v":-2.38},{"x":-0.35,"y":-1.375,"v":-2.43},{"x":-0.25,"y":-1.375,"v":-2.48},{"x":-0.15,"y":-1.375,"v":-2.52},{"x":-0.05,"y":-1.375,"v":-2.55},{"x":0.05,"y":-1.375,"v":-2.59},{"x":0.15,"y":-1.375,"v":-2.62},{"x":0.25,"y":-1.375,"v":-2.63},{"x":0.35,"y":-1.375,"v":-2.64},{"x":0.45,"y":-1.375,"v":-2.65},{"x":0.55,"y":-1.375,"v":-2.64},{"x":0.65,"y":-1.375,"v":-2.63},{"x":0.75,"y":-1.375,"v":-2.62},{"x":0.85,"y":-1.375,"v":-2.59},{"x":0.95,"y":-1.375,"v":-2.56},
{"x":-0.95,"y":-1.425,"v":-2.25},{"x":-0.85,"y":-1.425,"v":-2.35},{"x":-0.75,"y":-1.425,"v":-2.44},{"x":-0.65,"y":-1.425,"v":-2.52},{"x":-0.55,"y":-1.425,"v":-2.6},{"x":-0.45,"y":-1.425,"v":-2.67},{"x":-0.35,"y":-1.425,"v":-2.73},{"x":-0.25,"y":-1.425,"v":-2.78},{"x":-0.15,"y":-1.425,"v":-2.83},{"x":-0.05,"y":-1.425,"v":-2.86},{"x":0.05,"y":-1.425,"v":-2.9},{"x":0.15,"y":-1.425,"v":-2.92},{"x":0.25,"y":-1.425,"v":-2.93},{"x":0.35,"y":-1.425,"v":-2.94},{"x":0.45,"y":-1.425,"v":-2.94},{"x":0.55,"y":-1.425,"v":-2.93},{"x":0.65,"y":-1.425,"v":-2.91},{"x":0.75,"y":-1.425,"v":-2.89},{"x":0.85,"y":-1.425,"v":-2.86},{"x":0.95,"y":-1.425,"v":-2.82},
{"x":-0.95,"y":-1.475,"v":-2.63},{"x":-0.85,"y":-1.475,"v":-2.74},{"x":-0.75,"y":-1.475,"v":-2.84},{"x":-0.65,"y":-1.475,"v":-2.92},{"x":-0.55,"y":-1.475,"v":-3.01},{"x":-0.45,"y":-1.475,"v":-3.08},{"x":-0.35,"y":-1.475,"v":-3.14},{"x":-0.25,"y":-1.475,"v":-3.2},{"x":-0.15,"y":-1.475,"v":-3.25},{"x":-0.05,"y":-1.475,"v":-3.29},{"x":0.05,"y":-1.475,"v":-3.32},{"x":0.15,"y":-1.475,"v":-3.34},{"x":0.25,"y":-1.475,"v":-3.35},{"x":0.35,"y":-1.475,"v":-3.35},{"x":0.45,"y":-1.475,"v":-3.35},{"x":0.55,"y":-1.475,"v":-3.34},{"x":0.65,"y":-1.475,"v":-3.31},{"x":0.75,"y":-1.475,"v":-3.29},{"x":0.85,"y":-1.475,"v":-3.25},{"x":0.95,"y":-1.475,"v":-3.2}
],
"l": [
{"k":"b","c":"b0","o":0,"x":-1.016,"y":0},{"k":"b","c":"b0","o":1,"x":1.0,"y":0},
{"k":"b","c":"b1","o":0,"x":-1.016,"y":0.056},{"k":"b","c":"b1","o":1,"x":-0.87,"y":0.066},{"k":"b","c":"b1","o":2,"x":-0.73,"y":0.078},{"k":"b","c":"b1","o":3,"x":-0.6,"y":0.097},{"k":"b","c":"b1","o":4,"x":-0.462,"y":0.126},{"k":"b","c":"b1","o":5,"x":-0.39,"y":0.152},{"k":"b","c":"b1","o":6,"x":-0.328,"y":0.186},{"k":"b","c":"b1","o":7,"x":-0.27,"y":0.22},{"k":"b","c":"b1","o":8,"x":-0.22,"y":0.266},{"k":"b","c":"b1","o":9,"x":-0.175,"y":0.33},{"k":"b","c":"b1","o":10,"x":-0.14,"y":0.425},{"k":"b","c":"b1","o":11,"x":-0.123,"y":0.49},{"k":"b","c":"b1","o":12,"x":-0.107,"y":0.565},{"k":"b","c":"b1","o":13,"x":-0.092,"y":0.66},{"k":"b","c":"b1","o":14,"x":-0.078,"y":0.75},{"k":"b","c":"b1","o":15,"x":-0.066,"y":0.84},{"k":"b","c":"b1","o":16,"x":-0.058,"y":0.92},{"k":"b","c":"b1","o":17,"x":-0.054,"y":1.0},
{"k":"b","c":"b2","o":0,"x":-1.016,"y":-0.056},{"k":"b","c":"b2","o":1,"x":-0.87,"y":-0.066},{"k":"b","c":"b2","o":2,"x":-0.73,"y":-0.078},{"k":"b","c":"b2","o":3,"x":-0.6,"y":-0.097},{"k":"b","c":"b2","o":4,"x":-0.462,"y":-0.126},{"k":"b","c":"b2","o":5,"x":-0.39,"y":-0.152},{"k":"b","c":"b2","o":6,"x":-0.328,"y":-0.186},{"k":"b","c":"b2","o":7,"x":-0.27,"y":-0.22},{"k":"b","c":"b2","o":8,"x":-0.22,"y":-0.266},{"k":"b","c":"b2","o":9,"x":-0.175,"y":-0.33},{"k":"b","c":"b2","o":10,"x":-0.14,"y":-0.425},{"k":"b","c":"b2","o":11,"x":-0.123,"y":-0.49},{"k":"b","c":"b2","o":12,"x":-0.107,"y":-0.565},{"k":"b","c":"b2","o":13,"x":-0.092,"y":-0.66},{"k":"b","c":"b2","o":14,"x":-0.078,"y":-0.75},{"k":"b","c":"b2","o":15,"x":-0.066,"y":-0.84},{"k":"b","c":"b2","o":16,"x":-0.058,"y":-0.92},{"k":"b","c":"b2","o":17,"x":-0.054,"y":-1.0},
{"k":"r","c":"r1","o":0,"x":-0.533,"y":1.5},{"k":"r","c":"r1","o":1,"x":-0.537,"y":1.3},{"k":"r","c":"r1","o":2,"x":-0.53,"y":1.12},{"k":"r","c":"r1","o":3,"x":-0.518,"y":0.986},{"k":"r","c":"r1","o":4,"x":-0.49,"y":0.87},{"k":"r","c":"r1","o":5,"x":-0.452,"y":0.787},{"k":"r","c":"r1","o":6,"x":-0.4,"y":0.72},{"k":"r","c":"r1","o":7,"x":-0.347,"y":0.667},{"k":"r","c":"r1","o":8,"x":-0.29,"y":0.625},{"k":"r","c":"r1","o":9,"x":-0.226,"y":0.59},{"k":"r","c":"r1","o":10,"x":-0.16,"y":0.573},{"k":"r","c":"r1","o":11,"x":-0.107,"y":0.565},{"k":"r","c":"r1","o":12,"x":-0.05,"y":0.557},{"k":"r","c":"r1","o":13,"x":0.0,"y":0.555},{"k":"r","c":"r1","o":14,"x":0.05,"y":0.558},{"k":"r","c":"r1","o":15,"x":0.1,"y":0.57},{"k":"r","c":"r1","o":16,"x":0.2,"y":0.615},{"k":"r","c":"r1","o":17,"x":0.27,"y":0.67},{"k":"r","c":"r1","o":18,"x":0.33,"y":0.75},{"k":"r","c":"r1","o":19,"x":0.38,"y":0.84},{"k":"r","c":"r1","o":20,"x":0.42,"y":0.95},{"k":"r","c":"r1","o":21,"x":0.45,"y":1.08},{"k":"r","c":"r1","o":22,"x":0.468,"y":1.25},{"k":"r","c":"r1","o":23,"x":0.476,"y":1.4},{"k":"r","c":"r1","o":24,"x":0.48,"y":1.5},
{"k":"r","c":"r3","o":0,"x":-0.533,"y":-1.5},{"k":"r","c":"r3","o":1,"x":-0.537,"y":-1.3},{"k":"r","c":"r3","o":2,"x":-0.53,"y":-1.12},{"k":"r","c":"r3","o":3,"x":-0.518,"y":-0.986},{"k":"r","c":"r3","o":4,"x":-0.49,"y":-0.87},{"k":"r","c":"r3","o":5,"x":-0.452,"y":-0.787},{"k":"r","c":"r3","o":6,"x":-0.4,"y":-0.72},{"k":"r","c":"r3","o":7,"x":-0.347,"y":-0.667},{"k":"r","c":"r3","o":8,"x":-0.29,"y":-0.625},{"k":"r","c":"r3","o":9,"x":-0.226,"y":-0.59},{"k":"r","c":"r3","o":10,"x":-0.16,"y":-0.573},{"k":"r","c":"r3","o":11,"x":-0.107,"y":-0.565},{"k":"r","c":"r3","o":12,"x":-0.05,"y":-0.557},{"k":"r","c":"r3","o":13,"x":0.0,"y":-0.555},{"k":"r","c":"r3","o":14,"x":0.05,"y":-0.558},{"k":"r","c":"r3","o":15,"x":0.1,"y":-0.57},{"k":"r","c":"r3","o":16,"x":0.2,"y":-0.615},{"k":"r","c":"r3","o":17,"x":0.27,"y":-0.67},{"k":"r","c":"r3","o":18,"x":0.33,"y":-0.75},{"k":"r","c":"r3","o":19,"x":0.38,"y":-0.84},{"k":"r","c":"r3","o":20,"x":0.42,"y":-0.95},{"k":"r","c":"r3","o":21,"x":0.45,"y":-1.08},{"k":"r","c":"r3","o":22,"x":0.468,"y":-1.25},{"k":"r","c":"r3","o":23,"x":0.476,"y":-1.4},{"k":"r","c":"r3","o":24,"x":0.48,"y":-1.5},
{"k":"r","c":"r2","o":0,"x":0.107,"y":0},{"k":"r","c":"r2","o":1,"x":0.108,"y":0.15},{"k":"r","c":"r2","o":2,"x":0.125,"y":0.3},{"k":"r","c":"r2","o":3,"x":0.16,"y":0.4},{"k":"r","c":"r2","o":4,"x":0.2,"y":0.47},{"k":"r","c":"r2","o":5,"x":0.265,"y":0.58},{"k":"r","c":"r2","o":6,"x":0.33,"y":0.68},{"k":"r","c":"r2","o":7,"x":0.39,"y":0.8},{"k":"r","c":"r2","o":8,"x":0.437,"y":0.92},{"k":"r","c":"r2","o":9,"x":0.465,"y":1.08},{"k":"r","c":"r2","o":10,"x":0.483,"y":1.25},{"k":"r","c":"r2","o":11,"x":0.49,"y":1.4},{"k":"r","c":"r2","o":12,"x":0.492,"y":1.5},
{"k":"r","c":"r4","o":0,"x":0.107,"y":0},{"k":"r","c":"r4","o":1,"x":0.108,"y":-0.15},{"k":"r","c":"r4","o":2,"x":0.125,"y":-0.3},{"k":"r","c":"r4","o":3,"x":0.16,"y":-0.4},{"k":"r","c":"r4","o":4,"x":0.2,"y":-0.47},{"k":"r","c":"r4","o":5,"x":0.265,"y":-0.58},{"k":"r","c":"r4","o":6,"x":0.33,"y":-0.68},{"k":"r","c":"r4","o":7,"x":0.39,"y":-0.8},{"k":"r","c":"r4","o":8,"x":0.437,"y":-0.92},{"k":"r","c":"r4","o":9,"x":0.465,"y":-1.08},{"k":"r","c":"r4","o":10,"x":0.483,"y":-1.25},{"k":"r","c":"r4","o":11,"x":0.49,"y":-1.4},{"k":"r","c":"r4","o":12,"x":0.492,"y":-1.5}
],
"p": [
{"t":"pole","x":-0.054,"y":1},{"t":"pole","x":-0.054,"y":-1},
{"t":"saddle","x":-0.107,"y":0.565},{"t":"saddle","x":-0.107,"y":-0.565},{"t":"saddle","x":0.107,"y":0}
]
},
"layer": [
{
"layer": [
{
"data": {"name": "g"},
"mark": {"type": "rect", "strokeWidth": 0.6, "stroke": {"expr": "scale('color', datum.v)"}},
"encoding": {
"x": {"field": "x", "type": "quantitative", "bin": {"step": 0.1, "extent": [-1, 1]}, "scale": {"domain": [-1.0161, 1.0323], "nice": false, "zero": false},
 "axis": {"orient": "bottom", "title": null, "grid": false, "values": [-1,-0.9,-0.8,-0.7,-0.6,-0.5,-0.4,-0.3,-0.2,-0.1,0,0.1,0.2,0.3,0.4,0.5,0.6,0.7,0.8,0.9,1], "format": ".1f",
  "labelExpr": "abs(datum.value*2-round(datum.value*2))<0.01 ? datum.label : ''",
  "tickSize": {"condition": {"test": "abs(datum.value*2-round(datum.value*2))<0.01", "value": 5}, "value": 3},
  "labelOverlap": false, "labelFlush": false, "labelBound": false, "labelFont": "Liberation Serif", "labelFontSize": 12, "labelColor": "#222", "labelPadding": 1,
  "domainColor": "#888", "tickColor": "#888", "zindex": 1}},
"y": {"field": "y", "type": "quantitative", "bin": {"step": 0.1, "extent": [-1.5, 1.5]}, "scale": {"domain": [-1.5478, 1.5478], "nice": false, "zero": false},
 "axis": {"orient": "left", "title": null, "grid": false, "values": [-1.5,-1.4,-1.3,-1.2,-1.1,-1,-0.9,-0.8,-0.7,-0.6,-0.5,-0.4,-0.3,-0.2,-0.1,0,0.1,0.2,0.3,0.4,0.5,0.6,0.7,0.8,0.9,1,1.1,1.2,1.3,1.4,1.5], "format": ".1f",
  "labelExpr": "abs(datum.value*2-round(datum.value*2))<0.01 ? datum.label : ''",
  "tickSize": {"condition": {"test": "abs(datum.value*2-round(datum.value*2))<0.01", "value": 5}, "value": 3},
  "labelOverlap": false, "labelFlush": false, "labelBound": false, "labelFont": "Liberation Serif", "labelFontSize": 12, "labelColor": "#222", "labelPadding": 3,
  "domainColor": "#888", "tickColor": "#888", "zindex": 1}},
"color": {"field": "v", "type": "quantitative",
 "scale": {"domain": [-3.5, -3, -2, -1, 0, 1, 1.65], "range": ["#44118c", "#5a33ab", "#8272da", "#a3ace6", "#bdd5e7", "#dcdcd8", "#f0e6d4"], "clamp": true, "interpolate": "rgb"},
 "legend": {"type": "gradient", "orient": "right", "offset": 15, "title": " ", "titleFontSize": 10, "titlePadding": 39, "direction": "vertical", "gradientLength": 162, "gradientThickness": 11,
  "values": [1, 0, -1, -2, -3], "format": "d", "labelFont": "Liberation Serif", "labelFontSize": 9, "labelColor": "#555", "labelOffset": 4, "labelOverlap": false,
  "gradientStrokeColor": "#ccc", "gradientStrokeWidth": 0.5, "padding": 0}}
}
},
{
"data": {"name": "f"},
"mark": {"type": "rect", "strokeWidth": 0.6, "stroke": {"expr": "scale('color', datum.v)"}},
"encoding": {
"x": {"field": "x", "type": "quantitative", "bin": {"step": 0.1, "extent": [-1, 1]}},
"y": {"field": "y", "type": "quantitative", "bin": {"step": 0.05, "extent": [-1.5, 1.5]}},
"color": {"field": "v", "type": "quantitative"}
}
}
]
},
{
"layer": [
{
"data": {"name": "l"},
"transform": [{"filter": "datum.k == 'b'"}],
"mark": {"type": "line", "color": "#111111", "strokeWidth": 1.7},
"encoding": {
"x": {"field": "x", "type": "quantitative", "scale": {"domain": [-1.0161, 1.0323], "nice": false, "zero": false}, "axis": {"orient": "top", "title": null, "grid": false, "labels": false, "values": [-1,-0.9,-0.8,-0.7,-0.6,-0.5,-0.4,-0.3,-0.2,-0.1,0,0.1,0.2,0.3,0.4,0.5,0.6,0.7,0.8,0.9,1], "tickSize": {"condition": {"test": "abs(datum.value*2-round(datum.value*2))<0.01", "value": -4}, "value": -2}, "domainColor": "#888", "tickColor": "#888", "zindex": 1}},
"y": {"field": "y", "type": "quantitative", "scale": {"domain": [-1.5478, 1.5478], "nice": false, "zero": false}, "axis": {"orient": "right", "title": null, "grid": false, "labels": false, "values": [-1.5,-1.4,-1.3,-1.2,-1.1,-1,-0.9,-0.8,-0.7,-0.6,-0.5,-0.4,-0.3,-0.2,-0.1,0,0.1,0.2,0.3,0.4,0.5,0.6,0.7,0.8,0.9,1,1.1,1.2,1.3,1.4,1.5], "tickSize": {"condition": {"test": "abs(datum.value*2-round(datum.value*2))<0.01", "value": -4}, "value": -2}, "domainColor": "#888", "tickColor": "#888", "zindex": 1}},
"detail": {"field": "c"},
"order": {"field": "o", "type": "quantitative"}
}
},
{
"data": {"name": "l"},
"transform": [{"filter": "datum.k == 'r'"}],
"mark": {"type": "line", "color": "#f01c1c", "strokeWidth": 1.5, "strokeDash": [5, 3]},
"encoding": {
"x": {"field": "x", "type": "quantitative"},
"y": {"field": "y", "type": "quantitative"},
"detail": {"field": "c"},
"order": {"field": "o", "type": "quantitative"}
}
},
{
"data": {"name": "p"},
"transform": [{"filter": "datum.t == 'pole'"}],
"mark": {"type": "point", "filled": true, "opacity": 1, "size": 125, "color": "#f50a0a"},
"encoding": {
"x": {"field": "x", "type": "quantitative"},
"y": {"field": "y", "type": "quantitative"}
}
},
{
"data": {"name": "p"},
"transform": [{"filter": "datum.t == 'saddle'"}],
"mark": {"type": "point", "filled": true, "opacity": 1, "size": 125, "color": "#ff8b0a"},
"encoding": {
"x": {"field": "x", "type": "quantitative"},
"y": {"field": "y", "type": "quantitative"}
}
}
]
}
],
"resolve": {"axis": {"x": "independent", "y": "independent"}}
}
